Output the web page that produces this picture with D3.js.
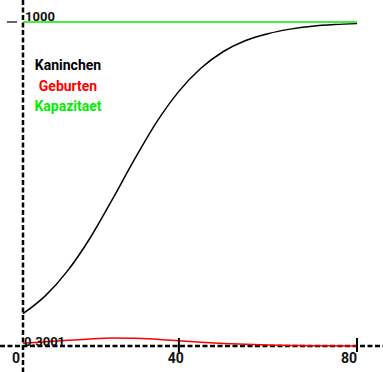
<!DOCTYPE html>
<html>
<head>
<meta charset="utf-8">
<script src="https://cdn.jsdelivr.net/npm/d3@7"></script>
<style>
  html, body { margin: 0; padding: 0; background: #fff; }
  svg { display: block; }
  text { font-family: Roboto, "Liberation Sans", sans-serif; }
</style>
</head>
<body>
<svg id="chart" width="383" height="372"></svg>
<script>
// ---- data ----
const time = [5, 10, 15, 20, 25, 30, 35, 40, 45, 50, 55, 60, 65, 70, 75, 80];
const kaninchen = [100, 155, 232, 332, 451, 575, 691, 786, 858, 909, 943, 964, 978, 987, 992, 995];
const geburten = [9.0, 13.1, 17.8, 22.2, 24.8, 24.4, 21.4, 16.8, 12.2, 8.3, 5.4, 3.4, 2.1, 1.3, 0.8, 0.3001];
const kapazitaet = [1000, 1000, 1000, 1000, 1000, 1000, 1000, 1000, 1000, 1000, 1000, 1000, 1000, 1000, 1000, 1000];
const xTicks = [40, 80];
const originLabel = "0";
const legendLabels = ["Kaninchen", "Geburten", "Kapazitaet"];
const seriesColors = ["#000000", "#ff0000", "#00ee00"];

const svg = d3.select("#chart");
const W = 383, H = 372;

const allY = kaninchen.concat(geburten, kapazitaet);
const yMin = d3.min(allY), yMax = d3.max(allY);

const x = d3.scaleLinear().domain([d3.min(time), d3.max(time)]).range([23, 357]);
const y = d3.scaleLinear().domain([yMin, yMax]).range([346, 22]);

// axes (dashed lines spanning whole picture)
svg.append("line").attr("x1", 0).attr("x2", W).attr("y1", y(yMin)).attr("y2", y(yMin))
  .attr("stroke", "#000").attr("stroke-width", 2.5).attr("stroke-dasharray", "5,2.5");
svg.append("line").attr("x1", x(d3.min(time))).attr("x2", x(d3.min(time))).attr("y1", 0).attr("y2", H)
  .attr("stroke", "#000").attr("stroke-width", 2.5).attr("stroke-dasharray", "5,2.5");

// series
const series = [kaninchen, geburten, kapazitaet];
const line = d3.line().x((d, i) => x(time[i])).y(d => y(d)).curve(d3.curveMonotoneX);
[kapazitaet, geburten, kaninchen].forEach((s) => {
  const idx = series.indexOf(s);
  svg.append("path").datum(s).attr("d", line)
    .attr("fill", "none").attr("stroke", seriesColors[idx]).attr("stroke-width", 1.5);
});

// x ticks
xTicks.forEach((t, i) => {
  svg.append("line").attr("x1", x(t)).attr("x2", x(t)).attr("y1", y(yMin) - 8).attr("y2", y(yMin) + 6)
    .attr("stroke", "#000").attr("stroke-width", 2);
  svg.append("text").attr("x", i === xTicks.length - 1 ? x(t) : x(t) - 3).attr("y", 363)
    .attr("text-anchor", i === xTicks.length - 1 ? "end" : "middle")
    .attr("font-size", 14).attr("font-weight", "bold").attr("fill", "#111").text(t);
});
svg.append("text").attr("x", 20).attr("y", 363).attr("text-anchor", "end")
  .attr("font-size", 14).attr("font-weight", "bold").attr("fill", "#111").text(originLabel);

// y ticks / labels
svg.append("line").attr("x1", 7).attr("x2", 17).attr("y1", y(yMax)).attr("y2", y(yMax))
  .attr("stroke", "#000").attr("stroke-width", 1.2);
svg.append("text").attr("x", 25).attr("y", 21).attr("font-size", 13).attr("font-weight", "bold")
  .attr("fill", "#111").text(d3.format("d")(yMax));
svg.append("text").attr("x", 24).attr("y", 346).attr("font-size", 13).attr("font-weight", "bold")
  .attr("fill", "#111").text(String(yMin));

// legend
legendLabels.forEach((lab, i) => {
  svg.append("text").attr("x", 68).attr("y", 70 + i * 20.5).attr("text-anchor", "middle")
    .attr("font-size", 14).attr("font-weight", "bold").attr("fill", seriesColors[i]).text(lab);
});
</script>
</body>
</html>
